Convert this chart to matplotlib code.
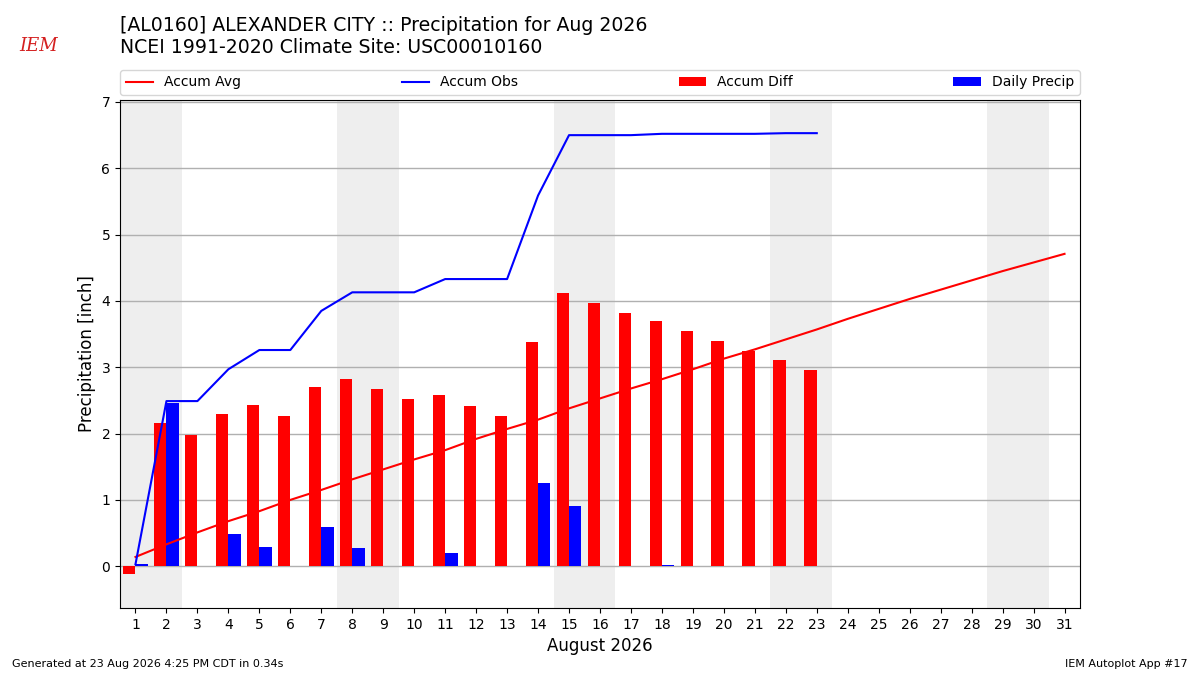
import matplotlib
matplotlib.use("Agg")
import matplotlib.pyplot as plt
import numpy as np

days_obs = list(range(1, 24))
days_all = list(range(1, 32))
daily_precip = [0.03, 2.46, 0.00, 0.48, 0.29, 0.00, 0.59, 0.28, 0.00, 0.00,
                0.20, 0.00, 0.00, 1.26, 0.91, 0.00, 0.00, 0.02, 0.00, 0.00,
                0.00, 0.01, 0.00]
accum_avg = [0.14, 0.33, 0.51, 0.68, 0.83, 1.00, 1.15, 1.31, 1.46, 1.61,
             1.75, 1.92, 2.07, 2.21, 2.38, 2.53, 2.68, 2.82, 2.97, 3.13,
             3.27, 3.42, 3.57, 3.73, 3.88, 4.03, 4.17, 4.31, 4.45, 4.58, 4.71]
weekend_starts = [1, 8, 15, 22, 29]

accum_obs = np.cumsum(daily_precip)
accum_diff = accum_obs - np.array(accum_avg[:len(days_obs)])

fig = plt.figure(figsize=(12, 6.75), dpi=100)
ax = fig.add_axes([0.1, 1 - 608 / 675, 0.8, 508 / 675])

for start in weekend_starts:
    ax.axvspan(start - 0.5, start + 1.5, color="#eeeeee", zorder=0, lw=0)

ax.plot(days_all, accum_avg, color="r", lw=1.5, label="Accum Avg", zorder=3)
ax.plot(days_obs, accum_obs, color="b", lw=1.5, label="Accum Obs", zorder=3)
ax.bar(np.array(days_obs) - 0.4, accum_diff, width=0.4, align="edge",
       color="r", label="Accum Diff", zorder=2)
ax.bar(days_obs, daily_precip, width=0.4, align="edge",
       color="b", label="Daily Precip", zorder=2)

ax.set_xlim(0.5, 31.5)
ax.set_ylim(-0.63, 7.03)
ax.set_xticks(days_all)
ax.grid(axis="y", color="#b0b0b0", lw=1, zorder=1)
ax.set_axisbelow(True)
ax.set_xlabel("August 2026", fontsize=12)
ax.set_ylabel("Precipitation [inch]", fontsize=12)
ax.legend(loc="lower left", bbox_to_anchor=(0, 1.01, 1, 0.05), mode="expand",
          ncol=4, fontsize=10, borderaxespad=0)

fig.text(0.1, 0.977, "[AL0160] ALEXANDER CITY :: Precipitation for Aug 2026\n"
         "NCEI 1991-2020 Climate Site: USC00010160",
         fontsize=13.6, va="top", ha="left", linespacing=1.25)
fig.text(0.032, 0.932, "IEM", fontsize=13, color="#d42020", style="italic",
         family="DejaVu Serif", ha="center", va="center")
fig.text(0.01, 0.012, "Generated at 23 Aug 2026 4:25 PM CDT in 0.34s", fontsize=8)
fig.text(0.99, 0.012, "IEM Autoplot App #17", fontsize=8, ha="right")

fig.savefig("out.png", dpi=100)
